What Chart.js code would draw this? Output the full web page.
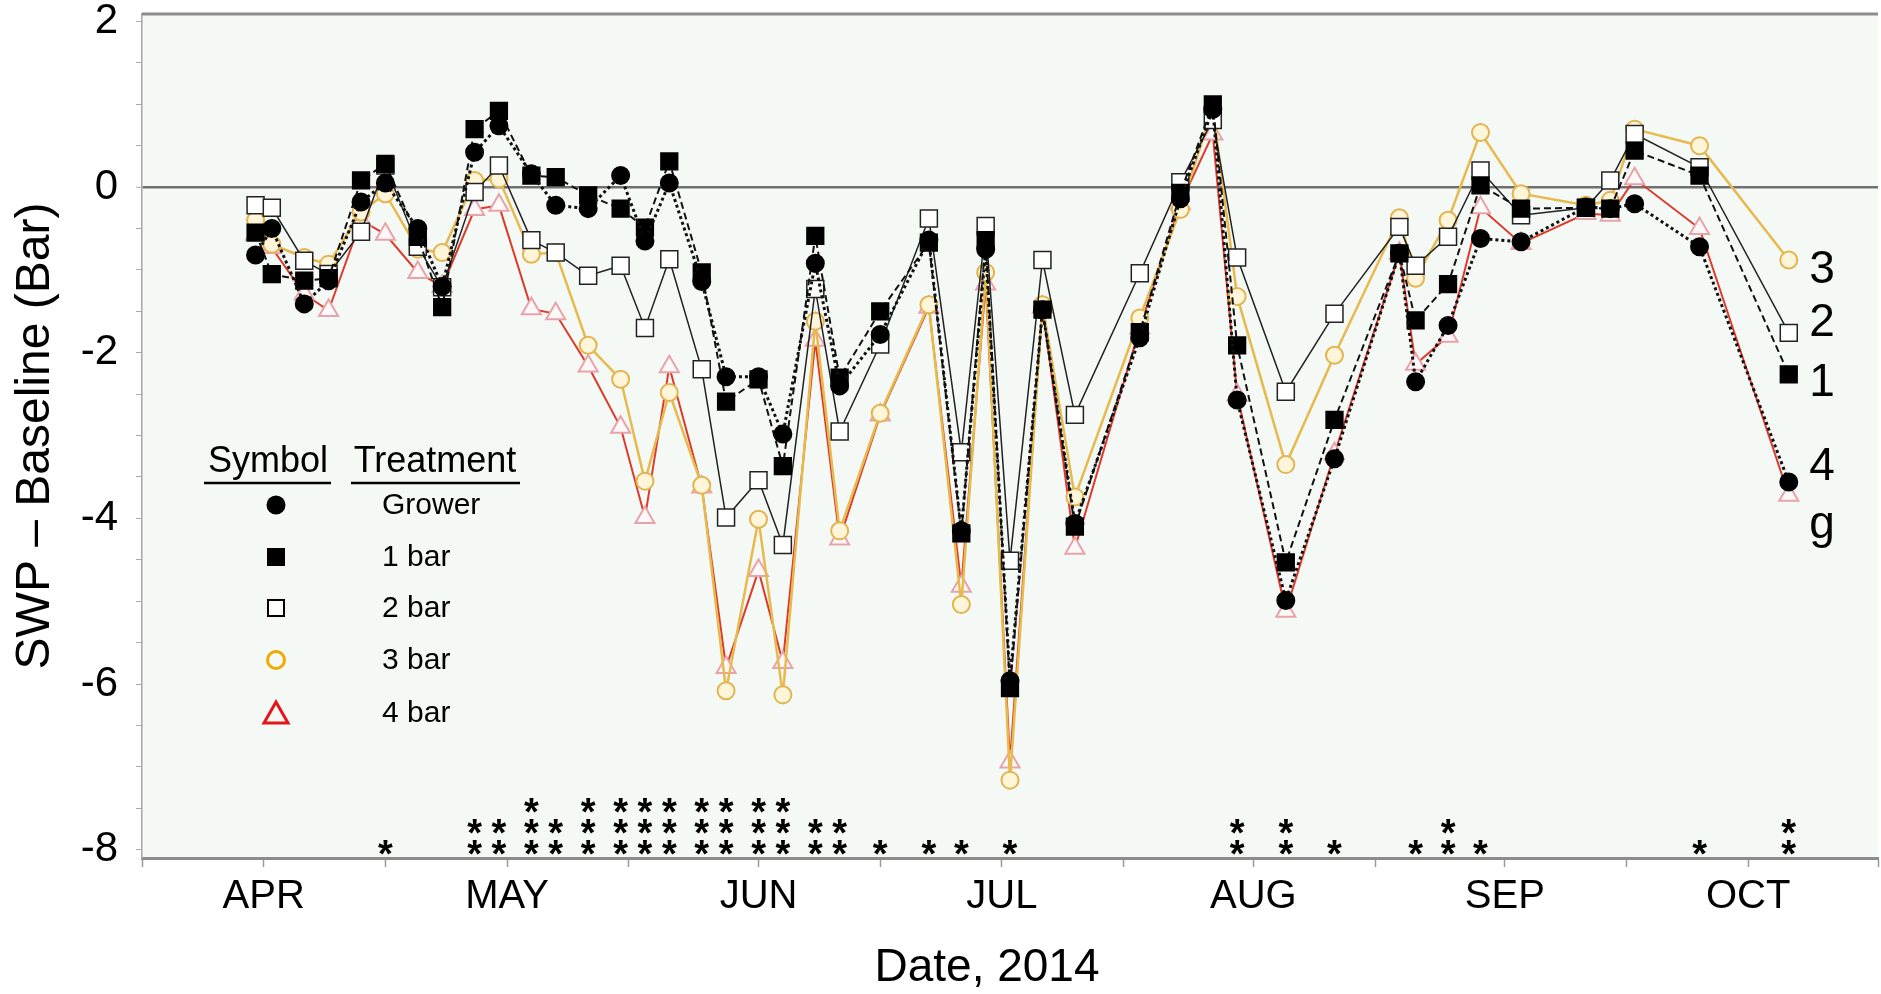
<!DOCTYPE html>
<html>
<head>
<meta charset="utf-8">
<title>SWP - Baseline 2014</title>
<script src="https://cdn.jsdelivr.net/npm/chart.js@4.4.1/dist/chart.umd.min.js"></script>
<style>
  html, body { margin: 0; padding: 0; background: #fff; overflow: hidden; }
  #swpChart { display: block; }
</style>
</head>
<body>
<canvas id="swpChart" width="1881" height="994"></canvas>
<script>
// sampling dates as day of year (2014)
const sampleDays = [90, 92, 96, 99, 103, 106, 110, 113, 117, 120, 124, 127, 131, 135, 138, 141, 145, 148, 152, 155,
    159, 162, 167, 173, 177, 180, 183, 187, 191, 199, 204, 208, 211, 217, 223, 231, 233, 237, 241, 246,
    254, 257, 260, 268, 279];

// SWP minus baseline (bar) per treatment
const grower = [-0.82, -0.50, -1.41, -1.13, -0.18, 0.05, -0.50, -1.20, 0.42, 0.74, 0.16, -0.22, -0.26, 0.14, -0.65,
    0.05, -1.14, -2.29, -2.29, -2.98, -0.92, -2.40, -1.78, -0.64, -4.15, -0.75, -5.96, -1.48, -4.06, -1.82,
    -0.14, 0.94, -2.57, -4.99, -3.28, -0.80, -2.35, -1.67, -0.62, -0.66, -0.24, -0.26, -0.20, -0.72, -3.56];
const bar1 = [-0.55, -1.05, -1.13, -1.10, 0.08, 0.28, -0.60, -1.45, 0.70, 0.92, 0.14, 0.12, -0.10, -0.26, -0.49,
    0.31, -1.03, -2.59, -2.32, -3.37, -0.59, -2.30, -1.50, -0.67, -4.18, -0.64, -6.05, -1.48, -4.10, -1.75,
    -0.07, 1.00, -1.91, -4.53, -2.81, -0.80, -1.61, -1.17, 0.02, -0.26, -0.25, -0.26, 0.44, 0.14, -2.26];
const bar2 = [-0.22, -0.25, -0.89, -1.05, -0.54, 0.26, -0.72, -1.21, -0.06, 0.26, -0.64, -0.79, -1.07, -0.95, -1.70,
    -0.87, -2.20, -3.99, -3.54, -4.32, -1.23, -2.95, -1.90, -0.38, -3.20, -0.47, -4.51, -0.88, -2.75, -1.04,
    0.06, 0.81, -0.85, -2.47, -1.53, -0.48, -0.95, -0.60, 0.20, -0.34, -0.25, 0.08, 0.64, 0.24, -1.76];
const bar3 = [-0.40, -0.69, -0.85, -0.93, -0.30, -0.08, -0.75, -0.79, 0.08, 0.10, -0.81, -0.79, -1.91, -2.32, -3.55,
    -2.48, -3.60, -6.08, -4.01, -6.13, -1.62, -4.15, -2.73, -1.42, -5.04, -1.03, -7.16, -1.42, -3.74, -1.58,
    -0.27, 0.96, -1.32, -3.35, -2.03, -0.37, -1.10, -0.40, 0.66, -0.08, -0.22, -0.16, 0.70, 0.50, -0.88];
const bar4 = [-0.57, -0.73, -1.29, -1.49, -0.40, -0.57, -1.03, -1.20, -0.27, -0.22, -1.47, -1.53, -2.16, -2.90, -3.99,
    -2.17, -3.62, -5.80, -4.63, -5.74, -1.85, -4.25, -2.75, -1.45, -4.82, -1.17, -6.94, -1.45, -4.36, -1.70,
    -0.20, 0.64, -2.51, -5.12, -3.22, -0.80, -2.14, -1.80, -0.25, -0.68, -0.32, -0.34, 0.10, -0.50, -3.72];

// axis ticks
const monthTicks = [91, 121, 152, 182, 213, 244, 274];
const monthLabels = ['APR', 'MAY', 'JUN', 'JUL', 'AUG', 'SEP', 'OCT'];
const midMonthTicks = [76, 106, 136, 167, 197, 228, 259, 290];
const yLabelTicks = [-8, -6, -4, -2, 0, 2];
const yMinorTicks = [-8, -7.5, -7, -6.5, -6, -5.5, -5, -4.5, -4, -3.5, -3, -2.5, -2, -1.5, -1, -0.5,
    0, 0.5, 1, 1.5, 2];

// significance asterisks (date, number of stars)
const starDays = [106, 117, 120, 124, 127, 131, 135, 138, 141, 145, 148, 152, 155, 159, 162, 167, 173, 177, 183,
    211, 217, 223, 233, 237, 241, 268, 279];
const starCounts = [1, 2, 2, 3, 2, 3, 3, 3, 3, 3, 3, 3, 3, 2, 2, 1, 1, 1, 1, 2, 2, 1, 1, 2, 1, 1, 2];
const starRows = [-7.97, -7.72, -7.47];

// labels at right end of the lines
const endLabels = ['3', '2', '1', '4', 'g'];
const endLabelValues = [-1.0, -1.65, -2.37, -3.38, -4.08];

const legendNames = ['Grower', '1 bar', '2 bar', '3 bar', '4 bar'];

const FONT = '"Liberation Sans", Arial, Helvetica, sans-serif';

function toPoints(values) {
    return values.map((v, i) => ({ x: sampleDays[i], y: v }));
}

// little marker painter used by the hand made legend
function drawMarker(ctx, kind, cx, cy) {
    ctx.save();
    ctx.beginPath();
    if (kind === 0) {
        ctx.fillStyle = '#000';
        ctx.arc(cx, cy, 9.5, 0, Math.PI * 2);
        ctx.fill();
    } else if (kind === 1) {
        ctx.fillStyle = '#000';
        ctx.fillRect(cx - 9, cy - 9, 18, 18);
    } else if (kind === 2) {
        ctx.fillStyle = '#fff';
        ctx.strokeStyle = '#000';
        ctx.lineWidth = 2;
        ctx.rect(cx - 8, cy - 8, 16, 16);
        ctx.fill();
        ctx.stroke();
    } else if (kind === 3) {
        ctx.strokeStyle = '#F2A900';
        ctx.lineWidth = 3;
        ctx.arc(cx, cy, 8.5, 0, Math.PI * 2);
        ctx.stroke();
    } else {
        ctx.strokeStyle = '#E8141B';
        ctx.lineWidth = 3;
        ctx.moveTo(cx, cy - 11);
        ctx.lineTo(cx + 12, cy + 10);
        ctx.lineTo(cx - 12, cy + 10);
        ctx.closePath();
        ctx.stroke();
    }
    ctx.restore();
}

const extrasPlugin = {
    id: 'extras',
    beforeDraw(chart) {
        const { ctx, chartArea: a } = chart;
        ctx.save();
        ctx.fillStyle = '#fff';
        ctx.fillRect(0, 0, chart.width, chart.height);
        ctx.fillStyle = '#F4F9F6';
        ctx.fillRect(a.left, a.top, a.right - a.left, a.bottom - a.top);
        ctx.restore();
    },
    afterDraw(chart) {
        const { ctx, chartArea: a } = chart;
        const x = chart.scales.x;
        const y = chart.scales.y;
        ctx.save();

        // top frame line
        ctx.strokeStyle = '#8c8c8c';
        ctx.lineWidth = 3;
        ctx.beginPath();
        ctx.moveTo(a.left, a.top);
        ctx.lineTo(a.right, a.top);
        ctx.stroke();

        // asterisks
        ctx.fillStyle = '#000';
        ctx.textAlign = 'center';
        ctx.textBaseline = 'middle';
        ctx.font = 'bold 38px ' + FONT;
        starDays.forEach((d, i) => {
            for (let k = 0; k < starCounts[i]; k++) {
                ctx.fillText('*', x.getPixelForValue(d), y.getPixelForValue(starRows[k]) + 9);
            }
        });

        // end labels
        ctx.font = '46px ' + FONT;
        endLabels.forEach((t, i) => {
            ctx.fillText(t, 1822, y.getPixelForValue(endLabelValues[i]));
        });

        // x title
        ctx.font = '46px ' + FONT;
        ctx.fillText('Date, 2014', 987, 968);

        // legend table
        ctx.font = '36px ' + FONT;
        ctx.fillText('Symbol', 268, 462);
        ctx.fillText('Treatment', 435, 462);
        ctx.strokeStyle = '#000';
        ctx.lineWidth = 2.5;
        ctx.beginPath();
        ctx.moveTo(204, 483); ctx.lineTo(331, 483);
        ctx.moveTo(351, 483); ctx.lineTo(520, 483);
        ctx.stroke();

        ctx.font = '30px ' + FONT;
        ctx.textAlign = 'left';
        const rowY = [505, 557, 608, 660, 713];
        legendNames.forEach((name, i) => {
            drawMarker(ctx, i, 276, rowY[i]);
            ctx.fillText(name, 382, rowY[i] + 1);
        });
        ctx.restore();
    }
};

Chart.defaults.font.family = FONT;
Chart.defaults.color = '#000';

const ctx = document.getElementById('swpChart').getContext('2d');
window.swpChart = new Chart(ctx, {
    type: 'line',
    data: {
        datasets: [
            {
                label: 'Grower',
                data: toPoints(grower),
                borderColor: '#111',
                borderWidth: 3,
                borderDash: [3, 3],
                pointStyle: 'circle',
                pointRadius: 8,
                pointBackgroundColor: '#000',
                pointBorderColor: '#000'
            },
            {
                label: '1 bar',
                data: toPoints(bar1),
                borderColor: '#111',
                borderWidth: 2,
                borderDash: [7, 4],
                pointStyle: 'rect',
                pointRadius: 11.5,
                pointBackgroundColor: '#000',
                pointBorderColor: '#000'
            },
            {
                label: '2 bar',
                data: toPoints(bar2),
                borderColor: '#222',
                borderWidth: 1.5,
                pointStyle: 'rect',
                pointRadius: 12,
                pointBorderWidth: 1.5,
                pointBackgroundColor: '#fff',
                pointBorderColor: '#222'
            },
            {
                label: '3 bar',
                data: toPoints(bar3),
                borderColor: '#E6BA4C',
                borderWidth: 2.5,
                pointStyle: 'circle',
                pointRadius: 8.5,
                pointBorderWidth: 2,
                pointBackgroundColor: '#FFF6D9',
                pointBorderColor: '#E3B451'
            },
            {
                label: '4 bar',
                data: toPoints(bar4),
                borderColor: '#DD3A2C',
                borderWidth: 2,
                pointStyle: 'triangle',
                pointRadius: 11,
                pointBorderWidth: 2,
                pointBackgroundColor: '#FFF8F8',
                pointBorderColor: '#E8A3AA'
            }
        ]
    },
    options: {
        responsive: false,
        devicePixelRatio: 1,
        animation: false,
        layout: { autoPadding: false, padding: { top: 14, right: 3, left: 0, bottom: 0 } },
        plugins: {
            legend: { display: false },
            tooltip: { enabled: false }
        },
        elements: { line: { tension: 0 } },
        scales: {
            x: {
                type: 'linear',
                min: 76,
                max: 290,
                afterBuildTicks: scale => {
                    scale.ticks = monthTicks.concat(midMonthTicks).sort((p, q) => p - q).map(v => ({ value: v }));
                },
                afterFit: scale => {
                    scale.height = 136;
                    scale.paddingLeft = 0;
                    scale.paddingRight = 0;
                },
                border: { color: '#8c8c8c', width: 3 },
                grid: {
                    drawOnChartArea: false,
                    tickLength: 9,
                    tickColor: '#9a9a9a',
                    tickWidth: 1.5
                },
                ticks: {
                    autoSkip: false,
                    maxRotation: 0,
                    padding: 6,
                    font: { size: 40 },
                    callback: value => {
                        const i = monthTicks.indexOf(value);
                        return i >= 0 ? monthLabels[i] : '';
                    }
                }
            },
            y: {
                min: -8.1,
                max: 2.09,
                afterBuildTicks: scale => {
                    scale.ticks = yMinorTicks.map(v => ({ value: v }));
                },
                afterFit: scale => {
                    scale.width = 142;
                    scale.paddingTop = 0;
                    scale.paddingBottom = 0;
                },
                border: { color: '#a8a8a8', width: 1.5 },
                grid: {
                    drawOnChartArea: true,
                    color: c => (c.tick && c.tick.value === 0 ? '#707070' : 'rgba(0,0,0,0)'),
                    lineWidth: c => (c.tick && c.tick.value === 0 ? 2.5 : 1),
                    tickLength: 6,
                    tickColor: '#a8a8a8',
                    tickWidth: 1
                },
                ticks: {
                    autoSkip: false,
                    padding: 18,
                    font: { size: 42 },
                    callback: value => (yLabelTicks.includes(value) ? String(value) : '')
                },
                title: {
                    display: true,
                    text: 'SWP \u2013 Baseline (Bar)',
                    font: { size: 48 },
                    padding: { top: 7, bottom: 0 }
                }
            }
        }
    },
    plugins: [extrasPlugin]
});
</script>
</body>
</html>
